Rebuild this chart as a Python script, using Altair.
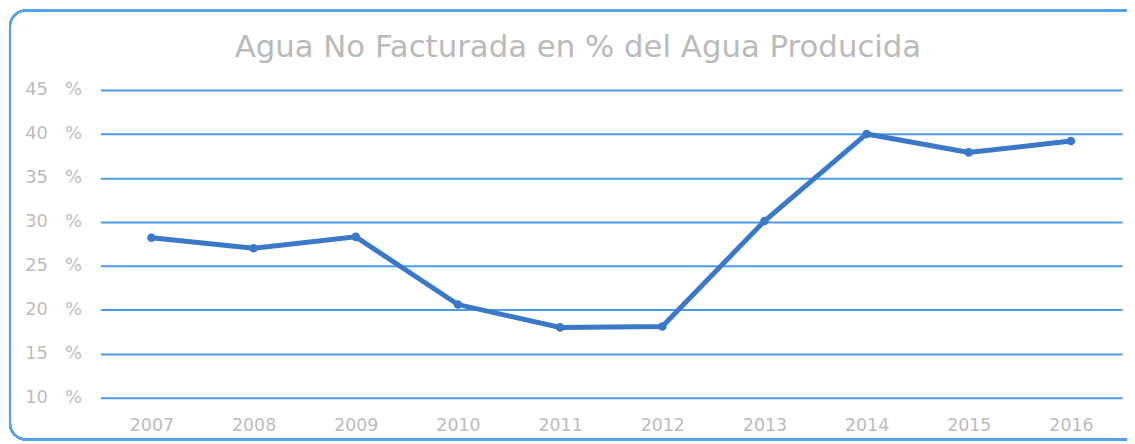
import altair as alt
import pandas as pd

years = ["2007", "2008", "2009", "2010", "2011", "2012", "2013", "2014", "2015", "2016"]
values = [28.2, 27.0, 28.3, 20.6, 18.0, 18.1, 30.1, 40.0, 37.9, 39.2]
title_text = "Agua No Facturada en % del Agua Producida"

df = pd.DataFrame({"year": years, "value": values})

BLUE_GRID = "#4596e0"
LINE = "#3a79c8"
GREY = "#bcbcbc"

x = alt.X("year:N", sort=years, scale=alt.Scale(type="point", padding=0.5),
          axis=alt.Axis(title=None, labelAngle=0, labelColor=GREY, labelFont="DejaVu Sans",
                        labelFontSize=17.5, ticks=False, domain=False, grid=False, labelPadding=19))
y = alt.Y("value:Q", scale=alt.Scale(domain=[10, 45], zero=False, nice=False),
          axis=alt.Axis(title=None, values=[10, 15, 20, 25, 30, 35, 40, 45],
                        labelExpr="datum.value + '\u00a0\u00a0\u00a0%'", labelColor=GREY, labelFont="DejaVu Sans",
                        labelFontSize=18, ticks=False, domain=False, labelPadding=19,
                        gridColor=BLUE_GRID, gridWidth=2, gridOpacity=0.95))

frame = alt.Chart(df).mark_rect(filled=False, stroke="#55a2e8", strokeWidth=2, cornerRadius=16).encode(
    x=alt.value(-91), x2=alt.value(1100), y=alt.value(-80), y2=alt.value(352)
)

title = alt.Chart(pd.DataFrame({"t": [title_text]})).mark_text(
    font="DejaVu Sans", fontSize=31, color="#bababa", align="center", baseline="middle"
).encode(x=alt.value(481), y=alt.value(-42), text="t:N")

line = alt.Chart(df).mark_line(color=LINE, strokeWidth=5, point=alt.OverlayMarkDef(color=LINE, size=75, opacity=1)).encode(
    x=x, y=y
)

chart = alt.layer(line, frame, title).properties(
    width=1029, height=310,
    padding={"left": 93, "top": 81, "right": 5, "bottom": 45},
    autosize=alt.AutoSizeParams(type="none")
).configure_view(stroke=None)

chart.save("out.html", embed_options={"renderer": "svg", "actions": False})
